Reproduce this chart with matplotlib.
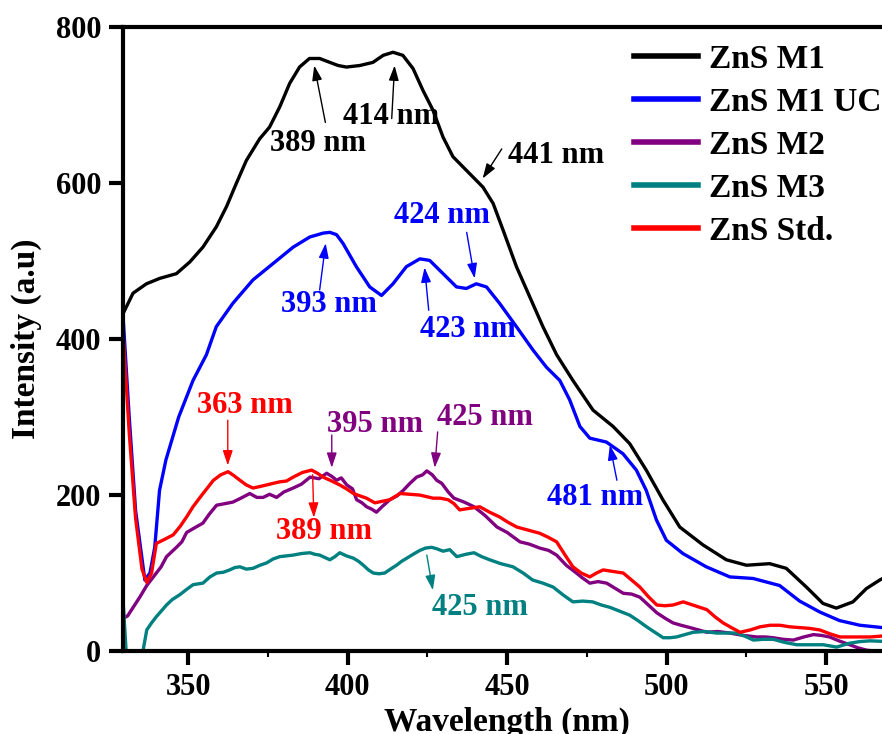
import numpy as np
import matplotlib
matplotlib.use("Agg")
import matplotlib.pyplot as plt

# ---- Photoluminescence spectra (wavelength in nm, intensity in a.u.) ----
wl_m1 = [329.6, 332.7, 336.9, 341.1, 346.3, 350.5, 354.6, 358.8, 362, 365.1, 368.2, 372.4,
         375.5, 378.7, 381.8, 384.9, 388, 391.2, 394.4, 397, 399.6, 403.8, 407.9, 411.1,
         414.2, 417.3, 420.5, 423.6, 426.7, 429.9, 433, 438.3, 442.4, 445.6, 448.7,
         452.9, 457.1, 461.2, 465.5, 470.6, 476.9, 483.2, 488.4, 493.6, 498.8, 504.1,
         511.4, 518.7, 525, 532.3, 537.5, 543.8, 549, 553.2, 558.4, 562.6, 566.8, 570]
int_m1 = [433, 459, 471, 478, 484, 499, 518, 544, 570, 600, 629, 657,
          672, 698, 728, 749, 760, 760, 755, 751, 749, 751, 755, 764,
          768, 764, 747, 719, 694, 659, 634, 612, 595, 574, 540,
          493, 454, 416, 380, 347, 309, 288, 266, 232, 194, 159,
          136, 117, 110, 112, 106, 82, 61, 55, 63, 80, 91, 98]

wl_m1uc = [329.7, 331.5, 333.5, 336.4, 338, 339.5, 341, 343, 347, 351.5, 355.7, 358.8, 364,
           370.3, 376.6, 382.9, 388.1, 392.3, 394.4, 396.5, 398.5, 402.7, 406.9, 410.6,
           414.2, 418.4, 422.6, 425.7, 429.9, 434.1, 437.2, 440.3, 443.5, 447.6, 452.9,
           458.1, 462.3, 466.5, 469.6, 472.8, 475.9, 481.1, 486.3, 490.5, 493.6, 496.8,
           499.9, 505.1, 512.4, 519.8, 527.1, 535.4, 541.7, 548, 554.2, 560.6, 570]
int_m1uc = [420, 300, 180, 91, 100, 133, 206, 245, 300, 347, 380, 416, 446,
            476, 497, 518, 531, 536, 537, 534, 523, 493, 467, 456,
            471, 493, 503, 501, 484, 467, 465, 471, 467, 446, 416,
            386, 364, 347, 322, 288, 273, 268, 253, 232, 206, 168,
            142, 125, 108, 95, 93, 84, 64, 50, 39, 33, 29]

wl_m2 = [329.7, 331, 334.8, 337, 340, 341.5, 343.2, 344.5, 346.3, 348, 349.5, 352, 354.6,
         356.5, 358.9, 361.5, 364, 366.5, 369.3, 371.5, 373.5, 375.5, 377.7, 380, 382.9,
         385.5, 388.2, 391, 393.4, 395, 396.5, 398, 399.7, 401.5, 402.8, 404.5, 405.9,
         407.5, 409, 411, 413.2, 415.5, 417.4, 419.5, 421.6, 423.5, 424.8, 426.5, 427.9,
         429.5, 431.5, 433.3, 436.5, 439.6, 443, 446.8, 450, 454, 457, 460.2, 463,
         465.5, 468.5, 471.7, 473.5, 475.9, 478.5, 481.2, 484, 486.4, 489, 491.6, 494,
         496.9, 499.5, 502, 504.5, 507.3, 510, 512.6, 516, 519.8, 524, 528.2, 531,
         533.4, 536.5, 539.7, 543, 546, 548.5, 551.1, 554, 557.4, 560, 562.7, 570]
int_m2 = [42, 45, 69, 84, 100, 108, 121, 126, 133, 140, 152, 158, 164,
          175, 187, 189, 191, 196, 202, 197, 197, 201, 197, 204, 209,
          214, 223, 221, 228, 224, 219, 222, 213, 208, 194, 190, 185,
          182, 178, 186, 194, 199, 206, 215, 223, 226, 231, 226, 219,
          215, 204, 196, 191, 185, 174, 159, 152, 140, 137, 132, 129,
          123, 110, 100, 94, 87, 89, 87, 80, 74, 73, 69, 60,
          49, 42, 36, 33, 30, 27, 24, 25, 23, 20, 18, 18,
          17, 15, 14, 18, 21, 20, 18, 13, 8, 4, 1, -2]

wl_m3 = [329.7, 330.6, np.nan, 335.6, 337, 338.5, 340, 341.5, 343.2, 345, 347.3, 349.5,
         351.5, 353, 354.6, 356.8, 358.9, 361, 363, 364.6, 366.2, 368.2, 370.3, 372.5,
         374.6, 376.6, 378.7, 380.8, 382.9, 385.5, 388.2, 389.7, 391.2, 392.8, 394.4,
         396, 397.5, 399.6, 401.8, 403.4, 404.9, 406.5, 408, 409.8, 411.6, 413.4,
         415.3, 416.9, 418.5, 420.5, 422.6, 424.4, 426.3, 428, 429.9, 432, 434.2,
         437, 439.6, 442, 444.5, 448, 451.8, 455, 458, 461.2, 464.4, 467.5, 470.6,
         473.7, 476.8, 479.5, 482.2, 485.3, 488.4, 491, 493.7, 496.3, 498.9, 501,
         503.1, 505.7, 508.3, 512, 515.6, 518.8, 521.9, 524.5, 527.2, 530.3, 533.4,
         537, 540.8, 545, 549.1, 553.3, 557.4, 560.5, 563.7, 570]
int_m3 = [56, -5, np.nan, -5, 27, 36, 44, 51, 59, 66, 72, 79,
          85, 86, 87, 95, 100, 101, 104, 107, 108, 105, 106, 110,
          113, 118, 121, 122, 123, 125, 126, 124, 123, 120, 117,
          121, 126, 122, 119, 115, 110, 104, 100, 99, 100, 105,
          110, 115, 119, 124, 129, 132, 133, 131, 128, 130, 121,
          124, 126, 121, 117, 112, 108, 100, 91, 87, 82, 72, 63,
          64, 63, 59, 56, 51, 46, 39, 31, 24, 17, 17,
          18, 21, 24, 25, 23, 23, 23, 19, 14, 15, 15,
          11, 8, 8, 8, 5, 10, 12, 13, 12]

wl_std = [329.7, 331.5, 333.5, 335.5, 337, 338.5, 340, 342.5, 345.3, 347.5, 349.5, 351.5,
          353.7, 355.8, 357.9, 360.2, 362.5, 364.3, 366.2, 368.2, 370.3, 372.5, 374.6,
          376.6, 378.7, 380.8, 382.9, 385.8, 388.7, 390.5, 392.3, 395, 397.5, 399.6,
          401.8, 403.8, 405.9, 407.2, 408.5, 410.8, 413.2, 414.8, 416.4, 419.5, 422.6,
          424.7, 426.8, 429, 431.5, 433.3, 435.1, 438.2, 441.4, 444.5, 447.6, 450.3,
          453, 456.6, 460.2, 462.8, 465.5, 468, 470.6, 473.2, 475.9, 478, 480.1, 483.2,
          486.4, 489, 491.6, 494.2, 496.9, 499.5, 502, 503.6, 505.2, 508.9, 512.6,
          515.1, 517.7, 520.3, 523, 526.2, 529.3, 532.4, 535.5, 538.6, 541.7, 544.8,
          548, 551.2, 554.3, 557.5, 560.6, 564, 570]
int_std = [400, 280, 170, 105, 88, 100, 138, 143, 149, 160, 172, 185,
           197, 208, 219, 226, 230, 225, 219, 213, 209, 211, 213,
           215, 217, 218, 223, 229, 232, 228, 223, 218, 213, 208,
           202, 199, 196, 193, 190, 192, 194, 198, 202, 201, 200,
           198, 196, 196, 194, 189, 181, 183, 185, 178, 172, 165,
           159, 155, 151, 146, 140, 124, 108, 100, 95, 100, 104, 102,
           100, 91, 82, 70, 59, 58, 59, 61, 63, 58, 53,
           44, 36, 30, 24, 27, 31, 33, 33, 31, 30, 29,
           27, 22, 18, 18, 18, 18, 20]

labels = ["ZnS M1", "ZnS M1 UC", "ZnS M2", "ZnS M3", "ZnS Std."]
colors = ["#000000", "#0000ff", "#800080", "#008080", "#ff0000"]

# peak annotations: text, text position, arrow tail, arrow tip, colour index
peak_text = ["389 nm", "414 nm", "441 nm", "424 nm", "393 nm", "423 nm", "481 nm",
             "363 nm", "389 nm", "395 nm", "425 nm", "425 nm"]
peak_text_xy = [(390.8, 651), (413.5, 685), (465.4, 636), (429.6, 559), (394.2, 444),
                (437.8, 412), (477.4, 197), (367.9, 315), (392.6, 153), (408.6, 290),
                (443.0, 300), (441.4, 56)]
peak_tail = [(393.0, 678), (413.8, 683), (448.3, 644), (437.3, 537), (391.2, 463),
             (425.4, 437), (484.4, 219), (362.4, 296), (389.0, 226), (395.0, 277),
             (428.2, 281), (424.8, 123)]
peak_tip = [(389.5, 751), (414.7, 751), (442.3, 606), (439.8, 478), (393.1, 523),
            (424.1, 492), (482.2, 264), (362.4, 238), (389.4, 171), (395.0, 235),
            (427.3, 235), (426.7, 78)]
peak_color = [0, 0, 0, 1, 1, 1, 1, 4, 4, 2, 2, 3]

x_ticks = [350, 400, 450, 500, 550]
y_ticks = [0, 200, 400, 600, 800]

plt.rcParams["font.family"] = ["Liberation Serif", "DejaVu Serif"]
plt.rcParams["font.weight"] = "bold"

fig = plt.figure(figsize=(8.82, 7.34), dpi=100)
ax = fig.add_axes([0.140, 0.1131, 0.869, 0.8497])

series = [(wl_m1, int_m1), (wl_m1uc, int_m1uc), (wl_m2, int_m2), (wl_m3, int_m3),
          (wl_std, int_std)]
for (x, y), lab, c in zip(series, labels, colors):
    ax.plot(x, y, color=c, lw=2.4, label=lab, solid_joinstyle="round")

for txt, txy, tail, tip, ci in zip(peak_text, peak_text_xy, peak_tail, peak_tip, peak_color):
    c = colors[ci]
    ax.annotate("", xy=tip, xytext=tail,
                arrowprops=dict(arrowstyle="-|>,head_length=0.9,head_width=0.3",
                                color=c, lw=1.0, shrinkA=0, shrinkB=0))
    ax.text(txy[0], txy[1], txt, color=c, fontsize=22, fontweight="bold",
            ha="center", va="center")

ax.set_xlim(329.7, 570)
ax.set_ylim(0, 800)
ax.set_xticks(x_ticks)
ax.set_yticks(y_ticks)
ax.set_xticks(np.arange(375, 570, 50), minor=True)
ax.tick_params(axis="both", which="major", direction="out", length=10, width=3,
               labelsize=22, pad=6)
ax.tick_params(axis="x", which="minor", direction="out", length=4, width=1.5)
for lab in ax.get_xticklabels() + ax.get_yticklabels():
    lab.set_fontweight("bold")
for s in ax.spines.values():
    s.set_linewidth(3)

ax.set_xlabel("Wavelength (nm)", fontsize=24, fontweight="bold", labelpad=3)
ax.set_ylabel("Intensity (a.u)", fontsize=24, fontweight="bold", labelpad=10)

leg = ax.legend(loc="upper left", bbox_to_anchor=(0.649, 0.995), frameon=False,
                prop=dict(size=24, weight="bold"), handlelength=1.9,
                handletextpad=0.33, labelspacing=0.36, borderaxespad=0)
for h in leg.get_lines():
    h.set_linewidth(4)

fig.savefig("out.png", dpi=100)
